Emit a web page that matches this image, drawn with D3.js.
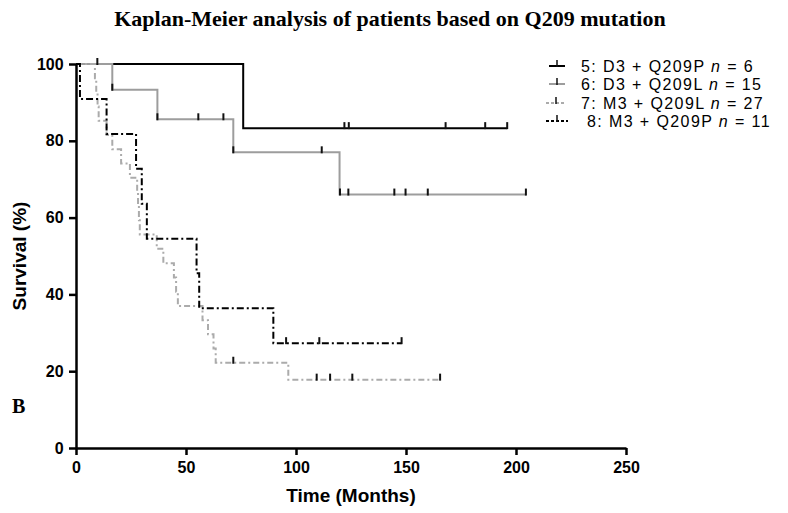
<!DOCTYPE html>
<html><head><meta charset="utf-8">
<script src="https://cdn.jsdelivr.net/npm/d3@7"></script>
<style>body{margin:0;background:#fff}svg{display:block}</style>
</head><body>
<svg id="chart" width="788" height="513"></svg>
<script>
// ---- data ----
const xTicks = [0, 50, 100, 150, 200, 250];
const yTicks = [0, 20, 40, 60, 80, 100];
const seriesNames = ["5: D3 + Q209P ", "6: D3 + Q209L ", "7: M3 + Q209L ", "8: M3 + Q209P "];
const seriesN = [6, 15, 27, 11];

const s5Times = [0, 76];
const s5Surv = [100, 83.3];
const s5End = 196;
const s5Censor = [9.7, 122, 124, 168, 186, 196];

const s6Times = [0, 16.5, 37, 71.5, 119.8];
const s6Surv = [100, 93.3, 85.6, 77.0, 66.0];
const s6End = 204.5;
const s6Censor = [16.5, 37, 55.6, 67, 71.5, 111.7, 120, 123.8, 144.7, 149.8, 159.9, 204.5];

const s7Times = [0, 8.6, 9.2, 9.8, 10.3, 13.9, 16.5, 20.5, 24.5, 27.8, 28.2, 28.6, 29.0, 36.7, 39.7, 44.5, 45.5, 46.3, 57.5, 60, 62.5, 63.5, 96.5];
const s7Surv = [100, 96.3, 92.6, 88.9, 85.2, 81.5, 77.8, 74.1, 70.4, 66.7, 63.0, 59.3, 55.6, 51.9, 48.1, 44.4, 40.7, 37.0, 33.3, 29.6, 25.9, 22.2, 17.8];
const s7End = 165.5;
const s7Censor = [71.5, 109.4, 115.5, 125.6, 165.5];

const s8Times = [0, 1.8, 13.9, 27.3, 29.9, 32.2, 54.8, 56, 89.7];
const s8Surv = [100, 90.9, 81.8, 72.7, 63.6, 54.5, 45.5, 36.4, 27.3];
const s8End = 148;
const s8Censor = [95.5, 110.6, 148];

const series = [
  {times: s5Times, surv: s5Surv, end: s5End, censor: s5Censor, color: "#000", dash: null},
  {times: s6Times, surv: s6Surv, end: s6End, censor: s6Censor, color: "#9d9d9d", dash: null},
  {times: s7Times, surv: s7Surv, end: s7End, censor: s7Censor, color: "#ababab", dash: "6,3,2,3"},
  {times: s8Times, surv: s8Surv, end: s8End, censor: s8Censor, color: "#000", dash: "7,3,2,3"}
];

// ---- chart ----
const svg = d3.select("#chart");
const x = d3.scaleLinear().domain([0, 250]).range([76, 626]);
const y = d3.scaleLinear().domain([0, 100]).range([448, 64]);

// title
svg.append("text").attr("x", 390).attr("y", 26).attr("text-anchor", "middle")
  .attr("font-family", "'Liberation Serif', 'Times New Roman', serif").attr("font-weight", "bold")
  .attr("font-size", 22).text("Kaplan-Meier analysis of patients based on Q209 mutation");

// panel letter
svg.append("text").attr("x", 12).attr("y", 413)
  .attr("font-family", "'Liberation Serif', serif").attr("font-weight", "bold")
  .attr("font-size", 20).text("B");

// axes
const xAxis = d3.axisBottom(x).tickValues(xTicks).tickSize(7).tickSizeOuter(0);
const yAxis = d3.axisLeft(y).tickValues(yTicks).tickSize(7).tickSizeOuter(0);
const gx = svg.append("g").attr("transform", "translate(0,448)").call(xAxis);
const gy = svg.append("g").attr("transform", "translate(76,0)").call(yAxis);
[gx, gy].forEach(g => {
  g.select(".domain").attr("stroke", "#000").attr("stroke-width", 2.5);
  g.selectAll(".tick line").attr("stroke", "#000").attr("stroke-width", 2.5);
  g.selectAll(".tick text").attr("fill", "#000").attr("font-family", "'Liberation Sans', Arial, sans-serif")
    .attr("font-weight", "bold").attr("font-size", 16);
});
gx.selectAll(".tick text").attr("dy", "0.95em");
gy.selectAll(".tick text").attr("dx", "-0.15em");

svg.append("text").attr("x", 351).attr("y", 502).attr("text-anchor", "middle")
  .attr("font-family", "'Liberation Sans', Arial, sans-serif").attr("font-weight", "bold")
  .attr("font-size", 19).text("Time (Months)");
svg.append("text").attr("transform", "translate(26,256) rotate(-90)").attr("text-anchor", "middle")
  .attr("font-family", "'Liberation Sans', Arial, sans-serif").attr("font-weight", "bold")
  .attr("font-size", 19).text("Survival (%)");

// curves
const line = d3.line().x(d => x(d[0])).y(d => y(d[1])).curve(d3.curveStepAfter);
function levelAt(s, t) {
  let v = s.surv[0];
  for (let i = 0; i < s.times.length; i++) if (s.times[i] <= t) v = s.surv[i];
  return v;
}
series.forEach(s => {
  const pts = s.times.map((t, i) => [t, s.surv[i]]);
  pts.push([s.end, s.surv[s.surv.length - 1]]);
  svg.append("path").datum(pts).attr("d", line).attr("fill", "none")
    .attr("stroke", s.color).attr("stroke-width", 2)
    .attr("stroke-dasharray", s.dash);
});
series.forEach(s => {
  svg.append("g").selectAll("line").data(s.censor).join("line")
    .attr("x1", d => x(d)).attr("x2", d => x(d))
    .attr("y1", d => y(levelAt(s, d)) + 1).attr("y2", d => y(levelAt(s, d)) - 6)
    .attr("stroke", "#111").attr("stroke-width", 2);
});

// legend
const legY = [66, 84, 103, 121];
const legX = [581, 581, 581, 587];
series.forEach((s, i) => {
  const g = svg.append("g");
  const x0 = i < 2 ? 549 : 546, x1 = i < 2 ? 565 : (i === 2 ? 566 : 568);
  g.append("line").attr("x1", x0).attr("x2", x1).attr("y1", legY[i]).attr("y2", legY[i])
    .attr("stroke", s.color).attr("stroke-width", 2).attr("stroke-dasharray", s.dash ? "3,2" : null);
  g.append("line").attr("x1", (x0 + x1) / 2).attr("x2", (x0 + x1) / 2)
    .attr("y1", legY[i] + 1).attr("y2", legY[i] - 6).attr("stroke", "#111").attr("stroke-width", 1.5);
  const t = g.append("text").attr("x", legX[i]).attr("y", legY[i] + 6)
    .attr("font-family", "'Liberation Sans', Arial, sans-serif").attr("font-size", 16)
    .attr("letter-spacing", 1.4).attr("fill", "#000");
  t.append("tspan").text(seriesNames[i]);
  t.append("tspan").attr("font-style", "italic").text("n");
  t.append("tspan").text(" = " + seriesN[i]);
});
</script>
</body></html>
